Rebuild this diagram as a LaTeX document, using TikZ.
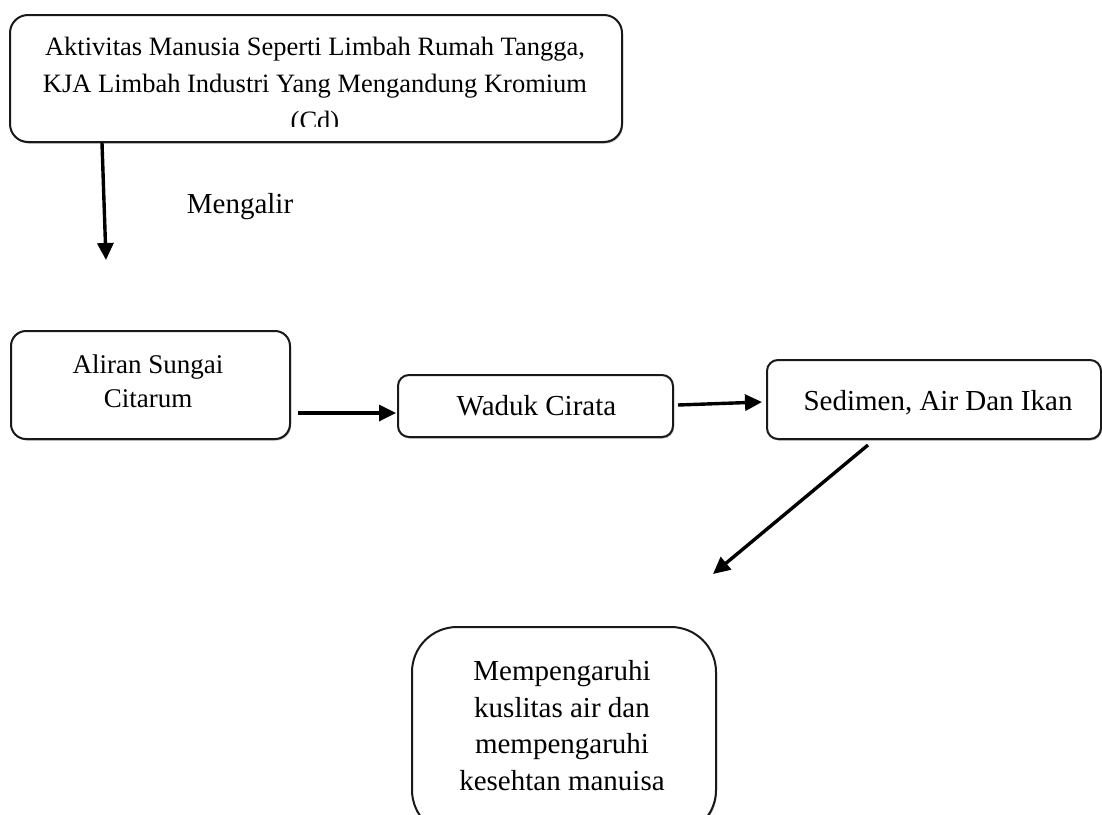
\documentclass[tikz,border=0pt]{standalone}
\usepackage{fontspec}
\setmainfont{Liberation Serif}
\usetikzlibrary{arrows.meta,shadows}
\tikzset{
  box/.style={draw=black!90, line width=2pt, fill=white, rounded corners=#1, inner sep=0pt,
    drop shadow={shadow xshift=1pt, shadow yshift=-1.5pt, opacity=0.3, fill=black}},
  box/.default=12pt,
  flow/.style={line width=3.4pt, -{Triangle[length=17pt,width=16pt]}},
  lbl/.style={inner sep=0pt, align=center, anchor=base},
}
\begin{document}
\begin{tikzpicture}[x=1pt,y=-1pt]
\clip (0,0) rectangle (1102,814);
% boxes
\node[box=18pt, minimum width=612pt, minimum height=127pt] (src) at (316,78.5) {};
\node[box=15pt, minimum width=279pt, minimum height=108pt] (aliran) at (150.5,385) {};
\node[box=11pt, minimum width=275pt, minimum height=62pt] (waduk) at (535.5,406) {};
\node[box=11pt, minimum width=334pt, minimum height=79pt] (sedimen) at (934,399.5) {};
\node[box=45pt, minimum width=304pt, minimum height=208pt] (effect) at (564,731) {};
% texts (anchor base = baseline of the last line)
\begin{scope}
\clip (12,17) rectangle (620,126);
\node[lbl, font=\fontsize{26.5}{37}\selectfont] (srctext) at (315,129)
  {Aktivitas Manusia Seperti Limbah Rumah Tangga,\\KJA Limbah Industri Yang Mengandung Kromium\\(Cd)};
\end{scope}
\node[lbl, font=\fontsize{27}{34}\selectfont] (alirantext) at (148,407) {Aliran Sungai\\Citarum};
\node[lbl, font=\fontsize{29}{36}\selectfont] (waduktext) at (536.5,415) {Waduk Cirata};
\node[lbl, font=\fontsize{29}{36}\selectfont] (sedimentext) at (938,410) {Sedimen, Air Dan Ikan};
\node[lbl, font=\fontsize{29}{36.5}\selectfont] (effecttext) at (562,790)
  {Mempengaruhi\\kuslitas air dan\\mempengaruhi\\kesehtan manuisa};
\node[lbl, font=\fontsize{29}{36}\selectfont] (mengalir) at (240,213) {Mengalir};
% connectors
\coordinate (e1) at (106,260);
\coordinate (e4) at (713,574);
\draw[flow] ([xshift=-214pt]src.south) -- (e1);
\draw[flow] ([xshift=7pt,yshift=-28pt]aliran.east) -- ([xshift=-1pt,yshift=-7pt]waduk.west);
\draw[flow] ([xshift=4pt,yshift=1pt]waduk.east) -- ([xshift=-4pt,yshift=-2.5pt]sedimen.west);
\draw[flow] ([xshift=-66pt,yshift=-5pt]sedimen.south) -- (e4);
\end{tikzpicture}
\end{document}
